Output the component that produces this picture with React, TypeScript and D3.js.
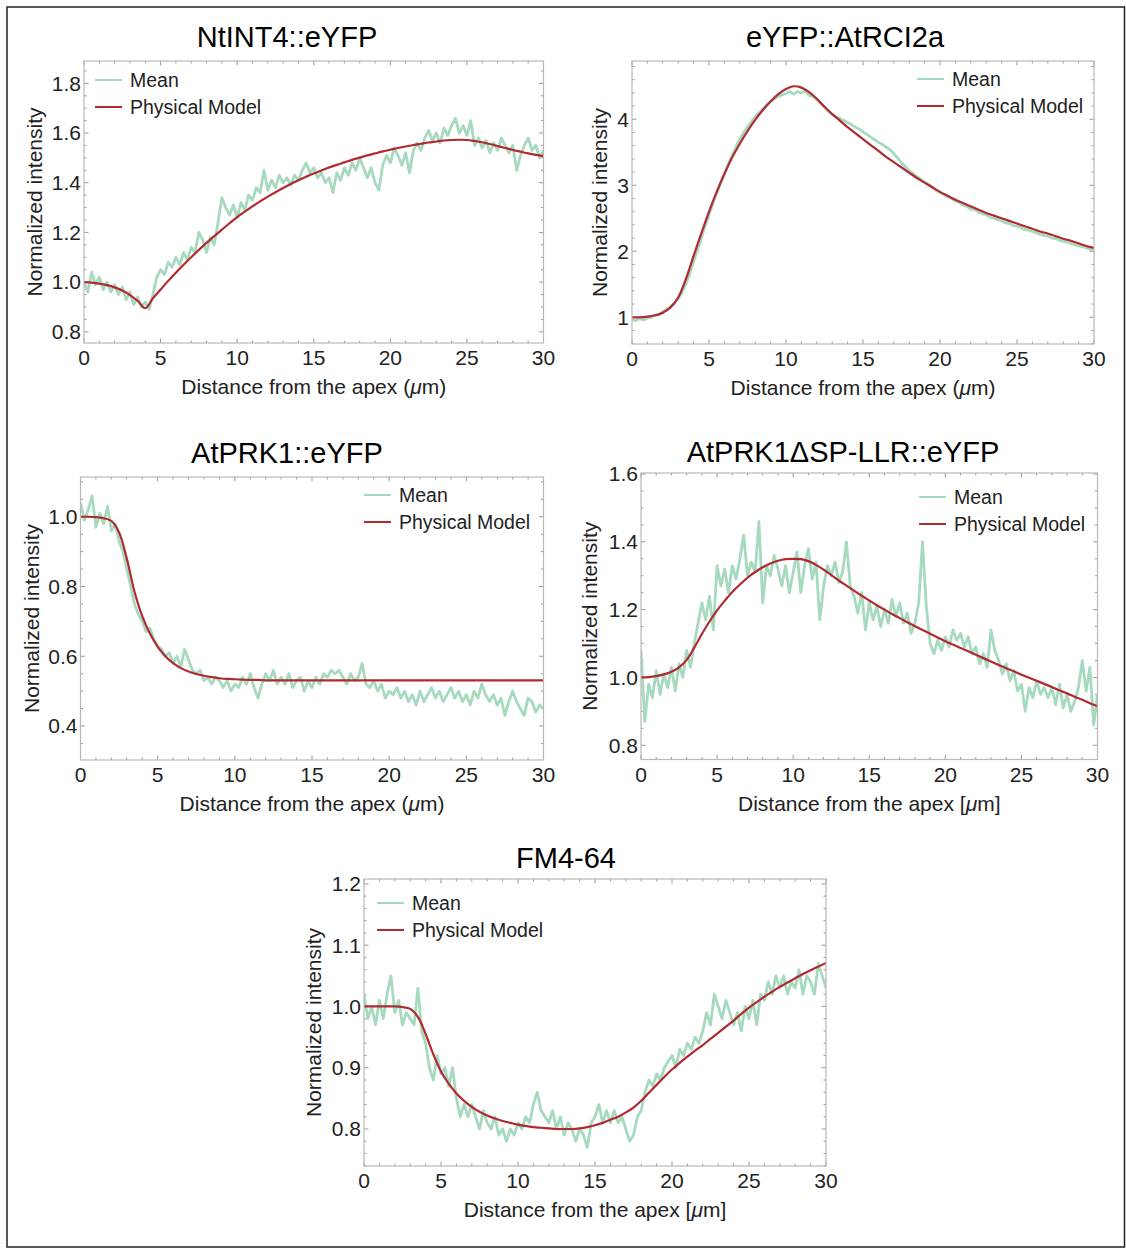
import React from 'react'
import * as d3 from 'd3'

// sampling of the profiles along the tube (µm)
const MEAN_STEP = 0.25
const MODEL_STEP = 0.5

const xTicks = [0, 5, 10, 15, 20, 25, 30]
const legendLabels = ['Mean', 'Physical Model']
const panelTitles = ['NtINT4::eYFP', 'eYFP::AtRCI2a', 'AtPRK1::eYFP', 'AtPRK1\u0394SP-LLR::eYFP', 'FM4-64']

// Mean profiles, 4 values per µm (x = n, n+.25, n+.5, n+.75), last value at 30
const ntint4Mean = [
  1.00, 0.96, 1.04, 0.99, 1.02, 0.97, 1.00, 0.96, 0.99, 0.95, 0.98, 0.93, 0.96, 0.91, 0.94, 0.90,
  0.92, 0.89, 0.95, 1.02, 1.05, 1.03, 1.08, 1.06, 1.10, 1.07, 1.12, 1.09, 1.14, 1.12, 1.20, 1.17,
  1.12, 1.18, 1.15, 1.24, 1.34, 1.30, 1.27, 1.31, 1.26, 1.32, 1.29, 1.35, 1.33, 1.38, 1.36, 1.45,
  1.37, 1.41, 1.38, 1.43, 1.40, 1.42, 1.39, 1.43, 1.41, 1.45, 1.48, 1.44, 1.46, 1.42, 1.44, 1.40,
  1.42, 1.36, 1.44, 1.41, 1.46, 1.43, 1.48, 1.45, 1.50, 1.46, 1.42, 1.46, 1.40, 1.37, 1.47, 1.51,
  1.48, 1.54, 1.51, 1.47, 1.52, 1.44, 1.53, 1.56, 1.53, 1.58, 1.61, 1.57, 1.60, 1.56, 1.62, 1.59,
  1.63, 1.66, 1.60, 1.63, 1.59, 1.65, 1.55, 1.58, 1.54, 1.57, 1.52, 1.56, 1.53, 1.58, 1.55, 1.52,
  1.55, 1.45, 1.51, 1.55, 1.58, 1.53, 1.55, 1.50, 1.53,
]
const rci2aMean = [
  0.97, 0.95, 0.98, 0.96, 0.99, 1.00, 1.03, 1.04, 1.08, 1.12, 1.16, 1.22, 1.28, 1.38, 1.50, 1.66,
  1.85, 2.02, 2.20, 2.38, 2.55, 2.72, 2.88, 3.03, 3.18, 3.32, 3.45, 3.58, 3.70, 3.80, 3.88, 3.96,
  4.04, 4.10, 4.16, 4.22, 4.27, 4.31, 4.35, 4.37, 4.39, 4.42, 4.38, 4.42, 4.40, 4.43, 4.36, 4.34,
  4.30, 4.24, 4.18, 4.12, 4.07, 4.04, 4.01, 3.98, 3.95, 3.92, 3.88, 3.85, 3.81, 3.77, 3.73, 3.69,
  3.65, 3.62, 3.58, 3.54, 3.48, 3.41, 3.34, 3.28, 3.22, 3.18, 3.13, 3.09, 3.05, 3.01, 2.97, 2.92,
  2.89, 2.86, 2.82, 2.80, 2.76, 2.74, 2.70, 2.68, 2.64, 2.63, 2.59, 2.57, 2.55, 2.52, 2.50, 2.48,
  2.46, 2.43, 2.42, 2.39, 2.38, 2.36, 2.33, 2.32, 2.30, 2.28, 2.26, 2.24, 2.23, 2.20, 2.19, 2.17,
  2.15, 2.14, 2.12, 2.10, 2.08, 2.07, 2.05, 2.03, 2.02,
]
const prk1Mean = [
  1.04, 0.99, 1.02, 1.06, 0.97, 1.01, 0.98, 1.03, 0.96, 0.98, 0.93, 0.90, 0.85, 0.80, 0.75, 0.72,
  0.70, 0.67, 0.68, 0.65, 0.63, 0.62, 0.60, 0.61, 0.58, 0.60, 0.57, 0.62, 0.59, 0.56, 0.55, 0.56,
  0.53, 0.54, 0.52, 0.54, 0.53, 0.51, 0.53, 0.50, 0.52, 0.51, 0.54, 0.52, 0.55, 0.51, 0.48, 0.52,
  0.55, 0.53, 0.56, 0.52, 0.54, 0.52, 0.55, 0.51, 0.53, 0.54, 0.50, 0.53, 0.51, 0.54, 0.52, 0.55,
  0.54, 0.56, 0.55, 0.56, 0.54, 0.52, 0.55, 0.53, 0.54, 0.58, 0.52, 0.51, 0.53, 0.50, 0.52, 0.48,
  0.50, 0.49, 0.51, 0.48, 0.50, 0.47, 0.49, 0.46, 0.50, 0.47, 0.49, 0.51, 0.48, 0.50, 0.47, 0.49,
  0.51, 0.48, 0.50, 0.47, 0.49, 0.46, 0.50, 0.48, 0.52, 0.49, 0.47, 0.49, 0.46, 0.48, 0.43, 0.47,
  0.50, 0.47, 0.45, 0.43, 0.48, 0.47, 0.44, 0.46, 0.45,
]
const prk1LlrMean = [
  1.08, 0.87, 0.98, 0.94, 1.02, 0.95, 1.01, 0.97, 1.03, 0.96, 1.04, 1.00, 1.08, 1.03, 1.10, 1.16,
  1.22, 1.17, 1.24, 1.14, 1.33, 1.27, 1.32, 1.25, 1.33, 1.29, 1.35, 1.42, 1.30, 1.34, 1.31, 1.46,
  1.22, 1.33, 1.30, 1.36, 1.32, 1.27, 1.33, 1.25, 1.31, 1.37, 1.25, 1.33, 1.38, 1.29, 1.34, 1.17,
  1.27, 1.33, 1.30, 1.34, 1.28, 1.31, 1.40, 1.27, 1.24, 1.19, 1.25, 1.14, 1.22, 1.17, 1.21, 1.15,
  1.20, 1.16, 1.23, 1.18, 1.22, 1.16, 1.19, 1.13, 1.16, 1.22, 1.40, 1.21, 1.10, 1.07, 1.11, 1.08,
  1.12, 1.09, 1.14, 1.11, 1.13, 1.09, 1.12, 1.07, 1.09, 1.04, 1.07, 1.03, 1.14, 1.08, 1.05, 1.01,
  1.04, 0.99, 1.02, 0.96, 0.98, 0.90, 0.97, 0.94, 0.99, 0.95, 0.97, 0.94, 0.97, 0.92, 0.98, 0.91,
  0.95, 0.90, 0.93, 0.97, 1.05, 0.96, 1.03, 0.86, 0.95,
]
const fm464Mean = [
  1.02, 0.98, 1.00, 0.97, 1.01, 0.98, 1.02, 1.05, 0.99, 1.01, 0.97, 0.99, 0.98, 0.97, 1.03, 0.96,
  0.94, 0.90, 0.88, 0.92, 0.89, 0.90, 0.87, 0.90, 0.85, 0.82, 0.84, 0.82, 0.84, 0.82, 0.80, 0.83,
  0.81, 0.80, 0.82, 0.79, 0.80, 0.78, 0.80, 0.79, 0.81, 0.80, 0.82, 0.81, 0.84, 0.86, 0.83, 0.82,
  0.81, 0.83, 0.80, 0.82, 0.79, 0.81, 0.80, 0.78, 0.80, 0.79, 0.77, 0.81, 0.82, 0.84, 0.81, 0.83,
  0.81, 0.83, 0.81, 0.82, 0.80, 0.78, 0.79, 0.82, 0.83, 0.86, 0.88, 0.87, 0.89, 0.88, 0.90, 0.91,
  0.92, 0.90, 0.93, 0.92, 0.94, 0.93, 0.95, 0.94, 0.96, 0.99, 0.97, 1.02, 1.00, 0.98, 1.01, 0.99,
  0.97, 0.99, 0.96, 1.00, 0.98, 1.01, 0.97, 1.02, 1.01, 1.04, 1.02, 1.05, 1.03, 1.05, 1.02, 1.04,
  1.03, 1.06, 1.02, 1.05, 1.04, 1.02, 1.07, 1.05, 1.03,
]

// Physical model, every 0.5 µm (10 values = 5 µm per row)
const ntint4Model = [
  1.000, 0.998, 0.994, 0.988, 0.979, 0.966, 0.948, 0.925, 0.895, 0.935,
  0.970, 1.005, 1.038, 1.070, 1.100, 1.130, 1.158, 1.185, 1.211, 1.237,
  1.262, 1.284, 1.305, 1.325, 1.344, 1.362, 1.379, 1.395, 1.410, 1.424,
  1.437, 1.449, 1.461, 1.472, 1.482, 1.492, 1.501, 1.510, 1.518, 1.526,
  1.533, 1.540, 1.546, 1.552, 1.557, 1.562, 1.566, 1.570, 1.572, 1.573,
  1.572, 1.568, 1.563, 1.556, 1.548, 1.540, 1.532, 1.525, 1.518, 1.512,
  1.507,
]
const rci2aModel = [
  1.00, 1.00, 1.01, 1.03, 1.07, 1.15, 1.30, 1.58, 1.93, 2.27,
  2.60, 2.90, 3.17, 3.42, 3.63, 3.82, 3.99, 4.14, 4.27, 4.38,
  4.46, 4.50, 4.48, 4.41, 4.31, 4.19, 4.08, 3.98, 3.88, 3.79,
  3.70, 3.61, 3.52, 3.43, 3.35, 3.27, 3.19, 3.11, 3.04, 2.97,
  2.90, 2.84, 2.78, 2.73, 2.68, 2.63, 2.58, 2.54, 2.50, 2.46,
  2.42, 2.38, 2.34, 2.30, 2.27, 2.23, 2.19, 2.16, 2.12, 2.08,
  2.05,
]
const prk1Model = [
  1.000, 1.000, 0.999, 0.996, 0.988, 0.955, 0.880, 0.785, 0.715, 0.665,
  0.627, 0.600, 0.580, 0.566, 0.556, 0.549, 0.544, 0.540, 0.537, 0.535,
  0.534, 0.533, 0.532, 0.532, 0.531, 0.531, 0.531, 0.531, 0.531, 0.531,
  0.531, 0.531, 0.531, 0.531, 0.531, 0.531, 0.531, 0.531, 0.531, 0.531,
  0.531, 0.531, 0.531, 0.531, 0.531, 0.531, 0.531, 0.531, 0.531, 0.531,
  0.531, 0.531, 0.531, 0.531, 0.531, 0.531, 0.531, 0.531, 0.531, 0.531,
  0.531,
]
const prk1LlrModel = [
  1.000, 1.001, 1.004, 1.009, 1.017, 1.030, 1.052, 1.088, 1.128, 1.165,
  1.198, 1.226, 1.252, 1.274, 1.294, 1.311, 1.325, 1.336, 1.344, 1.349,
  1.350, 1.349, 1.343, 1.332, 1.318, 1.302, 1.286, 1.271, 1.256, 1.241,
  1.227, 1.213, 1.200, 1.187, 1.175, 1.163, 1.151, 1.140, 1.129, 1.118,
  1.107, 1.097, 1.087, 1.077, 1.067, 1.057, 1.047, 1.037, 1.027, 1.018,
  1.008, 0.999, 0.990, 0.981, 0.972, 0.962, 0.953, 0.943, 0.934, 0.924,
  0.915,
]
const fm464Model = [
  1.000, 1.000, 1.000, 1.000, 1.000, 0.999, 0.996, 0.983, 0.955, 0.922,
  0.894, 0.874, 0.858, 0.846, 0.836, 0.828, 0.822, 0.817, 0.813, 0.810,
  0.807, 0.805, 0.803, 0.802, 0.801, 0.800, 0.800, 0.800, 0.801, 0.803,
  0.806, 0.810, 0.815, 0.820, 0.827, 0.835, 0.846, 0.859, 0.872, 0.885,
  0.897, 0.908, 0.918, 0.928, 0.937, 0.947, 0.957, 0.967, 0.977, 0.988,
  0.998, 1.007, 1.016, 1.024, 1.032, 1.039, 1.046, 1.053, 1.059, 1.065,
  1.071,
]

const yTicksNtint4 = [0.8, 1.0, 1.2, 1.4, 1.6, 1.8]
const yTicksRci2a = [1, 2, 3, 4]
const yTicksPrk1 = [0.4, 0.6, 0.8, 1.0]
const yTicksPrk1Llr = [0.8, 1.0, 1.2, 1.4, 1.6]
const yTicksFm464 = [0.8, 0.9, 1.0, 1.1, 1.2]

const MEAN_COLOR = '#a6dabe'
const MODEL_COLOR = '#b02a30'
const FONT = '"Liberation Sans", Arial, Helvetica, sans-serif'

// frame geometry of each panel, in page pixels
const panels = [
  {
    title: panelTitles[0], mean: ntint4Mean, model: ntint4Model, yTicks: yTicksNtint4, yMinor: 0.05, fmt: '.1f',
    yDomain: [0.755, 1.89], bracket: false,
    left: 84, right: 543.5, top: 61, bottom: 343, titleX: 287, titleY: 47, yTitleGap: 42, legX: 95, legY: 80,
  },
  {
    title: panelTitles[1], mean: rci2aMean, model: rci2aModel, yTicks: yTicksRci2a, yMinor: 0.2, fmt: 'd',
    yDomain: [0.595, 4.883], bracket: false,
    left: 632, right: 1094, top: 61, bottom: 344, titleX: 845, titleY: 47, yTitleGap: 25, legX: 917, legY: 79,
  },
  {
    title: panelTitles[2], mean: prk1Mean, model: prk1Model, yTicks: yTicksPrk1, yMinor: 0.05, fmt: '.1f',
    yDomain: [0.3025, 1.114], bracket: false,
    left: 80.5, right: 543.5, top: 477, bottom: 760, titleX: 287, titleY: 463, yTitleGap: 42, legX: 364, legY: 495,
  },
  {
    title: panelTitles[3], mean: prk1LlrMean, model: prk1LlrModel, yTicks: yTicksPrk1Llr, yMinor: 0.05, fmt: '.1f',
    yDomain: [0.758, 1.603], bracket: true,
    left: 641, right: 1097.5, top: 473, bottom: 759.5, titleX: 843, titleY: 462, yTitleGap: 44, legX: 919, legY: 497,
  },
  {
    title: panelTitles[4], mean: fm464Mean, model: fm464Model, yTicks: yTicksFm464, yMinor: 0.02, fmt: '.1f',
    yDomain: [0.7396, 1.208], bracket: true,
    left: 364, right: 826, top: 879, bottom: 1166, titleX: 566, titleY: 868, yTitleGap: 43, legX: 377, legY: 903,
  },
]

function Panel({ p, idx }) {
  const x = d3.scaleLinear().domain([0, 30]).range([p.left, p.right])
  const y = d3.scaleLinear().domain(p.yDomain).range([p.bottom, p.top])
  const meanPath = d3.line().x((_, i) => x(i * MEAN_STEP)).y((d) => y(d))(p.mean)
  const modelPath = d3
    .line()
    .x((_, i) => x(i * MODEL_STEP))
    .y((d) => y(d))
    .curve(d3.curveCatmullRom.alpha(0.5))(p.model)
  const fmt = d3.format(p.fmt)

  const xMinor = d3.range(0, 31, 1).filter((v) => v % 5 !== 0)
  const y0 = Math.ceil(p.yDomain[0] / p.yMinor) * p.yMinor
  const yMinor = d3
    .range(y0, p.yDomain[1], p.yMinor)
    .filter((v) => !p.yTicks.some((t) => Math.abs(t - v) < p.yMinor / 10))

  const tickCol = '#9a9a9a'
  const clipId = `clip-${idx}`
  const midY = (p.top + p.bottom) / 2
  const midX = (p.left + p.right) / 2

  return (
    <g>
      <defs>
        <clipPath id={clipId}>
          <rect x={p.left} y={p.top} width={p.right - p.left} height={p.bottom - p.top} />
        </clipPath>
      </defs>

      {/* frame ticks, inward on all four sides */}
      <g stroke={tickCol} strokeWidth={1}>
        {xTicks.map((t) => (
          <g key={'xt' + t}>
            <line x1={x(t)} x2={x(t)} y1={p.bottom} y2={p.bottom - 4.5} />
            <line x1={x(t)} x2={x(t)} y1={p.top} y2={p.top + 4.5} />
          </g>
        ))}
        {xMinor.map((t) => (
          <g key={'xm' + t}>
            <line x1={x(t)} x2={x(t)} y1={p.bottom} y2={p.bottom - 2.5} />
            <line x1={x(t)} x2={x(t)} y1={p.top} y2={p.top + 2.5} />
          </g>
        ))}
        {p.yTicks.map((t) => (
          <g key={'yt' + t}>
            <line x1={p.left} x2={p.left + 4.5} y1={y(t)} y2={y(t)} />
            <line x1={p.right} x2={p.right - 4.5} y1={y(t)} y2={y(t)} />
          </g>
        ))}
        {yMinor.map((t) => (
          <g key={'ym' + t}>
            <line x1={p.left} x2={p.left + 2.5} y1={y(t)} y2={y(t)} />
            <line x1={p.right} x2={p.right - 2.5} y1={y(t)} y2={y(t)} />
          </g>
        ))}
      </g>

      <g clipPath={`url(#${clipId})`} fill="none" strokeLinejoin="round">
        <path d={meanPath} stroke={MEAN_COLOR} strokeWidth={2.8} />
        <path d={modelPath} stroke={MODEL_COLOR} strokeWidth={2.2} />
      </g>

      <rect
        x={p.left}
        y={p.top}
        width={p.right - p.left}
        height={p.bottom - p.top}
        fill="none"
        stroke="#b8b8b8"
        strokeWidth={1.2}
      />

      {/* tick labels */}
      <g fontFamily={FONT} fontSize={21} fill="#222">
        {xTicks.map((t) => (
          <text key={'xl' + t} x={x(t)} y={p.bottom + 22} textAnchor="middle">
            {t}
          </text>
        ))}
        {p.yTicks.map((t) => (
          <text key={'yl' + t} x={p.left - 3} y={y(t)} dy="0.35em" textAnchor="end">
            {fmt(t)}
          </text>
        ))}
      </g>

      {/* axis titles */}
      <text x={midX} y={p.bottom + 51} textAnchor="middle" fontFamily={FONT} fontSize={21} fill="#222">
        {'Distance from the apex ' + (p.bracket ? '[' : '(')}
        <tspan fontStyle="italic">{'\u03BC'}</tspan>
        {'m' + (p.bracket ? ']' : ')')}
      </text>
      <text
        transform={`translate(${p.left - p.yTitleGap},${midY}) rotate(-90)`}
        textAnchor="middle"
        fontFamily={FONT}
        fontSize={21}
        fill="#222"
      >
        Normalized intensity
      </text>

      <text x={p.titleX} y={p.titleY} textAnchor="middle" fontFamily={FONT} fontSize={29} fill="#000">
        {p.title}
      </text>

      {/* legend */}
      <g fontFamily={FONT} fontSize={19.5} fill="#222">
        {legendLabels.map((lab, i) => (
          <g key={lab}>
            <line
              x1={p.legX}
              x2={p.legX + 27}
              y1={p.legY + i * 27}
              y2={p.legY + i * 27}
              stroke={i === 0 ? MEAN_COLOR : MODEL_COLOR}
              strokeWidth={2}
            />
            <text x={p.legX + 35} y={p.legY + i * 27} dy="0.35em">
              {lab}
            </text>
          </g>
        ))}
      </g>
    </g>
  )
}

export default function App() {
  return (
    <svg
      width={1126}
      height={1249}
      viewBox="0 0 1126 1249"
      style={{ position: 'absolute', left: 0, top: 0, background: '#fff' }}
    >
      <rect x={0} y={0} width={1126} height={1249} fill="#fff" />
      <rect x={7} y={7} width={1117.5} height={1240} fill="none" stroke="#222" strokeWidth={1.5} />
      {panels.map((p, i) => (
        <Panel key={p.title} p={p} idx={i} />
      ))}
    </svg>
  )
}
